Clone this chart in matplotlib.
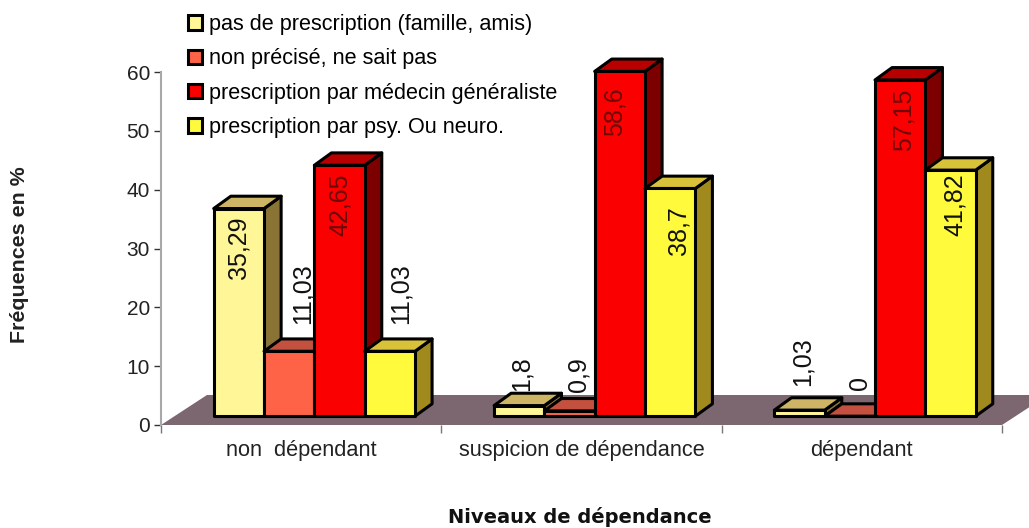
import matplotlib
matplotlib.use("Agg")
import matplotlib.pyplot as plt
from matplotlib.patches import Patch, Polygon

plt.rcParams['font.family'] = ['Liberation Sans', 'DejaVu Sans']

# ── data ──────────────────────────────────────────
categories = ["non  dépendant", "suspicion de dépendance", "dépendant"]
series_names = ["pas de prescription (famille, amis)",
                "non précisé, ne sait pas",
                "prescription par médecin généraliste",
                "prescription par psy. Ou neuro."]
famille = [35.29, 1.8, 1.03]
non_precise = [11.03, 0.9, 0]
generaliste = [42.65, 58.6, 57.15]
psy = [11.03, 38.7, 41.82]
y_ticks = [0, 10, 20, 30, 40, 50, 60]

# ── style ─────────────────────────────────────────
front = ["#FFF797", "#FF6347", "#FA0000", "#FFFA3C"]
top = ["#CDB565", "#C4503F", "#B80000", "#D8C23A"]
side = ["#8A7435", "#A8251A", "#7C0000", "#A08A1E"]
label_colors = ["#111111", "#111111", "#6E0808", "#111111"]
floor_color = "#7C6670"

bar_w = 0.1795     # largeur d'une barre, en catégories
first_bar = 0.188  # décalage de la 1re barre du groupe
base = 1.5         # les barres sont posées un peu derrière le bord du sol
depth_x, depth_y = 0.061, 2.1
floor_x, floor_y = 0.164, 5.1

# décalage des étiquettes en pixels (dx, dy vers le haut), par groupe puis série
label_shift = [[(0, -39), (13, 58), (0, -39), (11, 58)],
               [(2, 32), (9, 36), (-5, -40), (8, -42)],
               [(3, 48), (10, 33), (3, -40), (4, -35)]]

W, H = 1029, 528
fig = plt.figure(figsize=(W / 100, H / 100), dpi=100, facecolor="white")
ax = fig.add_axes([161 / W, 1 - 425 / H, 841 / W, 353 / H])
ax.set_xlim(0, 3)
ax.set_ylim(0, 60)

# ── sol ───────────────────────────────────────────
ax.add_patch(Polygon([(0, 0), (3, 0), (3 + floor_x, floor_y), (floor_x, floor_y)],
                     closed=True, facecolor=floor_color, edgecolor="none",
                     clip_on=False, zorder=1))

# ── barres ────────────────────────────────────────
all_series = [famille, non_precise, generaliste, psy]
z = 2
for g in range(len(categories)):
    for s, values in enumerate(all_series):
        v = values[g]
        x0 = g + first_bar + s * bar_w
        x1 = x0 + bar_w
        y1 = base + v
        edge = dict(edgecolor="black", linewidth=2.2, joinstyle="round", clip_on=False, zorder=z)
        ax.add_patch(Polygon([(x1, base), (x1 + depth_x, base + depth_y),
                              (x1 + depth_x, y1 + depth_y), (x1, y1)],
                             closed=True, facecolor=side[s], **edge))
        ax.add_patch(Polygon([(x0, y1), (x1, y1), (x1 + depth_x, y1 + depth_y),
                              (x0 + depth_x, y1 + depth_y)],
                             closed=True, facecolor=top[s], **edge))
        ax.bar(x0, v, bar_w, bottom=base, align="edge", color=front[s], **edge)
        z += 1

# étiquettes au-dessus de tout
for g in range(len(categories)):
    for s, values in enumerate(all_series):
        v = values[g]
        xc = g + first_bar + (s + 0.5) * bar_w
        ax.annotate(f"{v:g}".replace(".", ","), (xc, base + v),
                    xytext=label_shift[g][s], textcoords="offset pixels",
                    rotation=90, ha="center", va="center", fontsize=18,
                    color=label_colors[s], annotation_clip=False, zorder=50)

# ── axes ──────────────────────────────────────────
for name in ("top", "right", "bottom"):
    ax.spines[name].set_visible(False)
ax.spines["left"].set_color("#A8A8A8")
ax.spines["left"].set_linewidth(1.5)
ax.patch.set_alpha(0)

ax.set_yticks(y_ticks)
ax.tick_params(axis="y", length=5, width=1, color="#333333", pad=3, labelsize=15,
               labelcolor="#222222")
ax.set_xticks([0, 1, 2, 3], minor=True)
ax.tick_params(axis="x", which="minor", length=6, width=1, color="#777777")
ax.set_xticks([i + 0.5 for i in range(len(categories))], categories)
ax.tick_params(axis="x", which="major", length=0, pad=11, labelsize=15.7, labelcolor="#222222")

fig.text(20 / W, 1 - 255 / H, "Fréquences en %", rotation=90, ha="center", va="center",
         fontsize=15.4, fontweight="bold", color="#222222")
fig.text(580 / W, 1 - 517 / H, "Niveaux de dépendance", ha="center", va="center",
         fontsize=14, fontweight="bold", color="#111111", family="DejaVu Sans")

# ── légende ───────────────────────────────────────
handles = [Patch(facecolor=c, edgecolor="black", linewidth=2.2) for c in front]
ax.legend(handles, series_names, loc="upper left", bbox_to_anchor=(188 / W, 1 - 14 / H),
          bbox_transform=fig.transFigure, frameon=False, fontsize=15.6,
          handlelength=0.65, handleheight=0.65, handletextpad=0.32,
          labelspacing=0.62, borderpad=0, borderaxespad=0)

fig.savefig("out.png", dpi=100)
